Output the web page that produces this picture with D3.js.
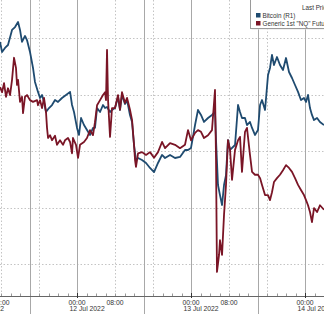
<!DOCTYPE html>
<html>
<head>
<meta charset="utf-8">
<script src="https://cdn.jsdelivr.net/npm/d3@7"></script>
<style>
  body { margin: 0; background: #fff; }
  text { font-family: "Liberation Sans", Arial, sans-serif; fill: #333; }
</style>
</head>
<body>
<div id="container"></div>
<script>
const width = 324,
  height = 314,
  axisY = 296;

// Bitcoin (R1), last price
const btc = [
  ["11 07:47", 20465], ["11 08:13", 20376], ["11 08:50", 20412], ["11 09:28", 20438], ["11 10:19", 20571],
  ["11 10:57", 20597], ["11 11:35", 20642], ["11 12:00", 20571], ["11 12:25", 20465], ["11 13:03", 20518],
  ["11 13:28", 20482], ["11 14:06", 20376], ["11 14:44", 20235], ["11 15:09", 20111], ["11 15:47", 20023],
  ["11 16:13", 19969], ["11 16:38", 19996], ["11 17:03", 19934], ["11 17:28", 19845], ["11 18:06", 19880],
  ["11 18:44", 19907], ["11 19:22", 19951], ["11 20:00", 19934], ["11 20:50", 19969], ["11 21:41", 19996],
  ["11 22:32", 20023], ["11 22:57", 19907], ["11 23:22", 19845], ["12 00:00", 19704], ["12 00:25", 19642],
  ["12 00:51", 19792], ["12 01:28", 19730], ["12 02:06", 19686], ["12 02:44", 19642], ["12 03:22", 19704],
  ["12 03:47", 19704], ["12 04:13", 19880], ["12 04:51", 19845], ["12 05:28", 19907], ["12 05:54", 19880],
  ["12 06:19", 19889], ["12 06:57", 19845], ["12 07:22", 19863], ["12 08:00", 19880], ["12 08:38", 19978],
  ["12 09:03", 19863], ["12 09:28", 19996], ["12 10:06", 19916], ["12 10:32", 19951], ["12 11:09", 19819],
  ["12 11:35", 19757], ["12 12:00", 19553], ["12 12:25", 19420], ["12 12:51", 19438], ["12 13:41", 19420],
  ["12 14:32", 19394], ["12 15:22", 19350], ["12 16:13", 19314], ["12 17:03", 19394], ["12 17:54", 19465],
  ["12 18:32", 19438], ["12 19:35", 19465], ["12 20:38", 19438], ["12 21:41", 19447], ["12 22:44", 19509],
  ["12 23:22", 19509], ["13 00:00", 19527], ["13 00:51", 19730], ["13 01:28", 19863], ["13 02:06", 19819],
  ["13 02:44", 19757], ["13 03:35", 19792], ["13 04:25", 19819], ["13 05:03", 19845], ["13 05:16", 19597],
  ["13 05:41", 19199], ["13 06:06", 19110], ["13 06:32", 19022], ["13 06:57", 19199], ["13 07:22", 19287],
  ["13 07:47", 19597], ["13 08:13", 19509], ["13 09:16", 19553], ["13 09:54", 19907], ["13 10:19", 19845],
  ["13 10:44", 19792], ["13 11:22", 19792], ["13 11:47", 19730], ["13 12:25", 19757], ["13 12:51", 19704],
  ["13 13:28", 19642], ["13 14:06", 19686], ["13 14:32", 19907], ["13 14:57", 19951], ["13 15:35", 19863],
  ["13 16:13", 20173], ["13 16:38", 20235], ["13 17:03", 20350], ["13 17:28", 20261], ["13 18:06", 20332],
  ["13 18:44", 20261], ["13 19:22", 20217], ["13 20:00", 20323], ["13 20:38", 20199], ["13 21:16", 20146],
  ["13 21:54", 20084], ["13 22:32", 20023], ["13 23:09", 19951], ["13 23:47", 19969], ["14 00:13", 19934],
  ["14 00:38", 19996], ["14 01:03", 19880], ["14 01:28", 19819], ["14 01:54", 19774], ["14 02:32", 19792],
  ["14 03:09", 19757], ["14 04:00", 19730]
];

// Generic 1st "NQ" Future, last price
const nq = [
  ["11 07:47", 11913], ["11 08:13", 11904], ["11 08:38", 11920], ["11 09:03", 11896], ["11 09:28", 11911],
  ["11 09:54", 11899], ["11 10:19", 11926], ["11 10:44", 11965], ["11 11:09", 11947], ["11 11:22", 11917],
  ["11 11:35", 11926], ["11 12:00", 11887], ["11 12:25", 11896], ["11 12:38", 11867], ["11 13:03", 11896],
  ["11 13:28", 11899], ["11 14:06", 11890], ["11 14:44", 11887], ["11 15:35", 11890], ["11 15:47", 11881],
  ["11 16:13", 11890], ["11 16:38", 11876], ["11 17:03", 11894], ["11 17:28", 11869], ["11 17:41", 11841],
  ["11 17:54", 11823], ["11 18:19", 11828], ["11 18:44", 11819], ["11 19:22", 11827], ["11 19:47", 11811],
  ["11 20:25", 11819], ["11 21:03", 11811], ["11 21:28", 11819], ["11 22:06", 11823], ["11 22:32", 11816],
  ["11 22:57", 11796], ["11 23:09", 11823], ["11 23:47", 11811], ["12 00:13", 11788], ["12 00:38", 11811],
  ["12 01:28", 11816], ["12 02:06", 11823], ["12 02:44", 11837], ["12 03:22", 11828], ["12 03:47", 11851],
  ["12 04:13", 11881], ["12 04:51", 11890], ["12 05:28", 11899], ["12 05:54", 11904], ["12 06:06", 11890],
  ["12 06:19", 11979], ["12 06:32", 11890], ["12 06:57", 11825], ["12 07:22", 11876], ["12 08:00", 11876],
  ["12 08:38", 11899], ["12 09:03", 11873], ["12 09:28", 11904], ["12 10:06", 11885], ["12 10:32", 11894],
  ["12 11:09", 11873], ["12 11:35", 11855], ["12 12:00", 11811], ["12 12:13", 11784], ["12 12:25", 11772],
  ["12 12:51", 11796], ["12 13:41", 11798], ["12 14:32", 11793], ["12 15:22", 11798], ["12 16:13", 11788],
  ["12 17:03", 11798], ["12 17:54", 11816], ["12 18:32", 11805], ["12 19:35", 11814], ["12 20:38", 11811],
  ["12 21:41", 11805], ["12 22:44", 11811], ["12 23:22", 11837], ["13 00:00", 11819], ["13 00:51", 11832],
  ["13 01:28", 11837], ["13 02:06", 11834], ["13 02:44", 11823], ["13 03:35", 11828], ["13 04:25", 11837],
  ["13 05:03", 11908], ["13 05:16", 11784], ["13 05:28", 11586], ["13 05:54", 11616], ["13 06:06", 11642],
  ["13 06:32", 11616], ["13 06:57", 11687], ["13 07:22", 11740], ["13 07:47", 11819], ["13 08:13", 11802],
  ["13 08:38", 11749], ["13 09:16", 11802], ["13 09:54", 11819], ["13 10:19", 11825], ["13 10:44", 11763],
  ["13 11:22", 11834], ["13 11:47", 11841], ["13 12:25", 11793], ["13 12:51", 11763], ["13 13:28", 11758],
  ["13 14:06", 11758], ["13 14:32", 11752], ["13 14:57", 11740], ["13 15:35", 11722], ["13 16:13", 11722],
  ["13 16:38", 11713], ["13 17:03", 11727], ["13 17:28", 11745], ["13 18:06", 11752], ["13 18:44", 11758],
  ["13 19:22", 11766], ["13 20:00", 11775], ["13 20:38", 11770], ["13 21:16", 11763], ["13 21:54", 11752],
  ["13 22:32", 11740], ["13 23:09", 11731], ["13 23:47", 11722], ["14 00:13", 11713], ["14 00:38", 11704],
  ["14 01:03", 11692], ["14 01:28", 11674], ["14 01:54", 11699], ["14 02:32", 11692], ["14 03:09", 11704],
  ["14 04:00", 11696]
];

const btcGrid = [18500, 19000, 19500, 20000, 20500];
const tickLabels = ["11 08:00", "12 00:00", "12 08:00", "13 00:00", "13 08:00", "14 00:00"];
const dayLabels = ["11 08:00", "12 00:00", "13 00:00", "14 00:00"];
const seriesNames = ["Bitcoin  (R1)", "Generic 1st \"NQ\" Future"];
const seriesColors = ["#1f4b70", "#7a1526"];

const parse = d3.timeParse("%Y-%m-%d %H:%M");
const t = s => parse("2022-07-" + s);

const xScale = d3.scaleTime()
  .domain([t("11 07:47"), t("14 04:00")])
  .range([0, width]);

const yBtc = d3.scaleLinear()
  .domain([18500, 20500])
  .range([264, 38]);

const yNq = d3.scaleLinear()
  .domain([11600, 12000])
  .range([264, 38]);

const svg = d3.select("#container")
  .append("svg")
  .attr("width", width)
  .attr("height", height);

const [t0, t1] = xScale.domain();
const hours = d3.timeHour.range(d3.timeHour.ceil(t0), t1);

// horizontal dotted grid
svg.append("g")
  .selectAll("line")
  .data(btcGrid)
  .join("line")
  .attr("x1", 0).attr("x2", width)
  .attr("y1", d => Math.round(yBtc(d)) + 0.5)
  .attr("y2", d => Math.round(yBtc(d)) + 0.5)
  .attr("stroke", "#c4c4c4")
  .attr("stroke-dasharray", "1.5,2");

// vertical dotted grid at 08:00 and 16:00
svg.append("g")
  .selectAll("line")
  .data(hours.filter(d => d.getHours() === 8 || d.getHours() === 16))
  .join("line")
  .attr("x1", d => Math.round(xScale(d)) + 0.5)
  .attr("x2", d => Math.round(xScale(d)) + 0.5)
  .attr("y1", 0).attr("y2", axisY)
  .attr("stroke", "#c4c4c4")
  .attr("stroke-dasharray", "1.5,2");

// day lines
svg.append("g")
  .selectAll("line")
  .data(hours.filter(d => d.getHours() === 0))
  .join("line")
  .attr("x1", d => Math.round(xScale(d)) + 0.5)
  .attr("x2", d => Math.round(xScale(d)) + 0.5)
  .attr("y1", 0).attr("y2", axisY)
  .attr("stroke", "#a8a8a8");

// session separators, run down through the footer
svg.append("g")
  .selectAll("line")
  .data(hours.filter(d => d.getHours() === 14))
  .join("line")
  .attr("x1", d => Math.round(xScale(d)) + 0.5)
  .attr("x2", d => Math.round(xScale(d)) + 0.5)
  .attr("y1", 0).attr("y2", height)
  .attr("stroke", "#a8a8a8");

// axis
svg.append("line")
  .attr("x1", 0).attr("x2", width)
  .attr("y1", axisY + 0.5).attr("y2", axisY + 0.5)
  .attr("stroke", "#666");

svg.append("g")
  .selectAll("line")
  .data(hours.filter(d => d.getHours() % 2 === 0))
  .join("line")
  .attr("x1", d => Math.round(xScale(d)) + 0.5)
  .attr("x2", d => Math.round(xScale(d)) + 0.5)
  .attr("y1", d => d.getHours() === 0 ? axisY - 3 : axisY - 2.5)
  .attr("y2", d => d.getHours() === 0 ? axisY + 2 : axisY)
  .attr("stroke", d => d.getHours() === 0 ? "#333" : "#999");

svg.append("g")
  .selectAll("text")
  .data(tickLabels)
  .join("text")
  .attr("x", d => xScale(t(d)))
  .attr("y", 305)
  .attr("text-anchor", "middle")
  .attr("font-size", 6.8)
  .attr("fill", "#2a2a2a")
  .text(d => d3.timeFormat("%H:%M")(t(d)));

svg.append("g")
  .selectAll("text")
  .data(dayLabels)
  .join("text")
  .attr("x", (d, i) => i === 0 ? xScale(t(d)) + 3 : xScale(t(d)) - 7.5)
  .attr("y", 311)
  .attr("text-anchor", (d, i) => i === 0 ? "end" : "start")
  .attr("font-size", 6.8)
  .attr("fill", "#2a2a2a")
  .text(d => d3.timeFormat("%d %b %Y")(t(d)));

// series
const plot = svg.append("g");
plot.append("clipPath").attr("id", "clip")
  .append("rect").attr("width", width).attr("height", axisY);

const btcLine = d3.line()
  .x(d => xScale(t(d[0])))
  .y(d => yBtc(d[1]));

const nqLine = d3.line()
  .x(d => xScale(t(d[0])))
  .y(d => yNq(d[1]));

plot.append("path")
  .datum(btc)
  .attr("clip-path", "url(#clip)")
  .attr("d", btcLine)
  .attr("fill", "none")
  .attr("stroke", seriesColors[0])
  .attr("stroke-width", 1.8)
  .attr("stroke-linejoin", "round");

plot.append("path")
  .datum(nq)
  .attr("clip-path", "url(#clip)")
  .attr("d", nqLine)
  .attr("fill", "none")
  .attr("stroke", seriesColors[1])
  .attr("stroke-width", 1.8)
  .attr("stroke-linejoin", "round");

// legend
const legend = svg.append("g");
legend.append("rect")
  .attr("x", 251.5).attr("y", -1.5)
  .attr("width", 90).attr("height", 31)
  .attr("fill", "#e6e6e6");
legend.append("rect")
  .attr("x", 250.5).attr("y", -2.5)
  .attr("width", 90).attr("height", 31)
  .attr("fill", "#fff")
  .attr("stroke", "#9a9a9a");
legend.append("text")
  .attr("x", 302).attr("y", 10)
  .attr("font-size", 6.3)
  .attr("fill", "#222")
  .text("Last Price");

const item = legend.selectAll("g.item")
  .data(seriesNames)
  .join("g")
  .attr("class", "item")
  .attr("transform", (d, i) => `translate(256,${13 + i * 8})`);
item.append("rect")
  .attr("width", 4.5).attr("height", 4.5)
  .attr("fill", (d, i) => seriesColors[i]);
item.append("text")
  .attr("x", 6.5).attr("y", 4.6)
  .attr("font-size", 6.3)
  .attr("fill", "#222")
  .text(d => d);
</script>
</body>
</html>
